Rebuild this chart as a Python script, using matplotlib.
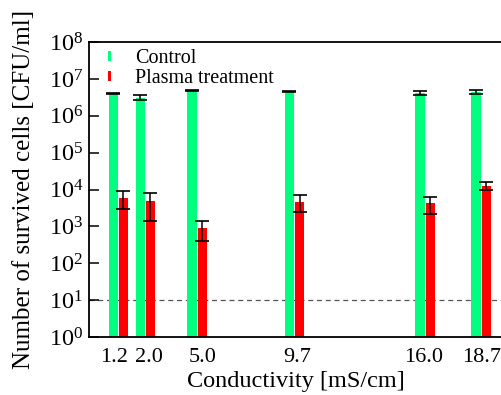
import numpy as np
import matplotlib
matplotlib.use("Agg")
import matplotlib.pyplot as plt

plt.rcParams['font.family'] = ['Liberation Serif', 'DejaVu Serif']
plt.rcParams['mathtext.fontset'] = 'custom'
plt.rcParams['mathtext.rm'] = 'Liberation Serif'

# conductivity [mS/cm] and where each group sits on the axis (2.0 is nudged right in the original)
conductivity = ["1.2", "2.0", "5.0", "9.7", "16.0", "18.7"]
x_plot = [1.2, 2.5, 5.0, 9.7, 16.0, 18.7]
# the tick labels are not centred on the groups in the original
tick_pos = [1.0, 2.7, 5.25, 9.85, 15.95, 18.75]

control = [4.1e6, 3.1e6, 4.85e6, 4.55e6, 4.15e6, 4.4e6]
control_err = [0.15e6, 0.5e6, 0.15e6, 0.1e6, 0.6e6, 0.6e6]
plasma = [6.0e3, 4.8e3, 0.9e3, 4.7e3, 4.3e3, 1.27e4]
plasma_err = [3.0e3, 3.4e3, 0.5e3, 2.3e3, 2.1e3, 3.2e3]

detection_limit = 10

fig = plt.figure(figsize=(5.02, 3.95), dpi=100)
ax = fig.add_axes([0.1773, 0.1468, 0.8227, 0.7468])

x = np.array(x_plot)
w = 0.44
off = 0.245

ax.bar(x - off, control, width=w, color='#00ff7f', label='Control', zorder=2)
ax.bar(x + off, plasma, width=w, color='#ff0000', label='Plasma treatment', zorder=2)
ax.errorbar(x - off, control, yerr=control_err, fmt='none', ecolor='black',
            elinewidth=1.1, capsize=5, capthick=1.2, zorder=3)
ax.errorbar(x + off, plasma, yerr=plasma_err, fmt='none', ecolor='black',
            elinewidth=1.1, capsize=5, capthick=1.2, zorder=3)

ax.axhline(detection_limit, color='#555555', lw=0.9, ls=(0, (4, 3)), zorder=1)

ax.set_yscale('log')
ax.set_ylim(1, 1e8)
ax.set_xlim(-0.21, 19.71)
ax.set_yticks([10.0 ** k for k in range(9)])
ax.set_yticklabels([r'$\mathregular{10^{%d}}$' % k for k in range(9)])
ax.minorticks_off()
ax.set_xticks(tick_pos)
ax.set_xticklabels(conductivity)

ax.tick_params(axis='y', direction='in', length=7, width=1.1, labelsize=17.5, pad=4)
ax.tick_params(axis='x', length=0, labelsize=16, pad=8)
ax.spines['right'].set_visible(False)
for s in ['left', 'top', 'bottom']:
    ax.spines[s].set_linewidth(1.3)

ax.set_xlabel('Conductivity [mS/cm]', fontsize=17.5, labelpad=3)
ax.set_ylabel('Number of survived cells [CFU/ml]', fontsize=18, labelpad=10)

leg = ax.legend(loc='upper left', bbox_to_anchor=(108 / 502, 1 - 49 / 395),
                bbox_transform=fig.transFigure, frameon=False, fontsize=14.5,
                handlelength=0.15, handleheight=0.4, handletextpad=1.2,
                labelspacing=0.05, borderpad=0, borderaxespad=0)

fig.savefig('out.png', dpi=100)
